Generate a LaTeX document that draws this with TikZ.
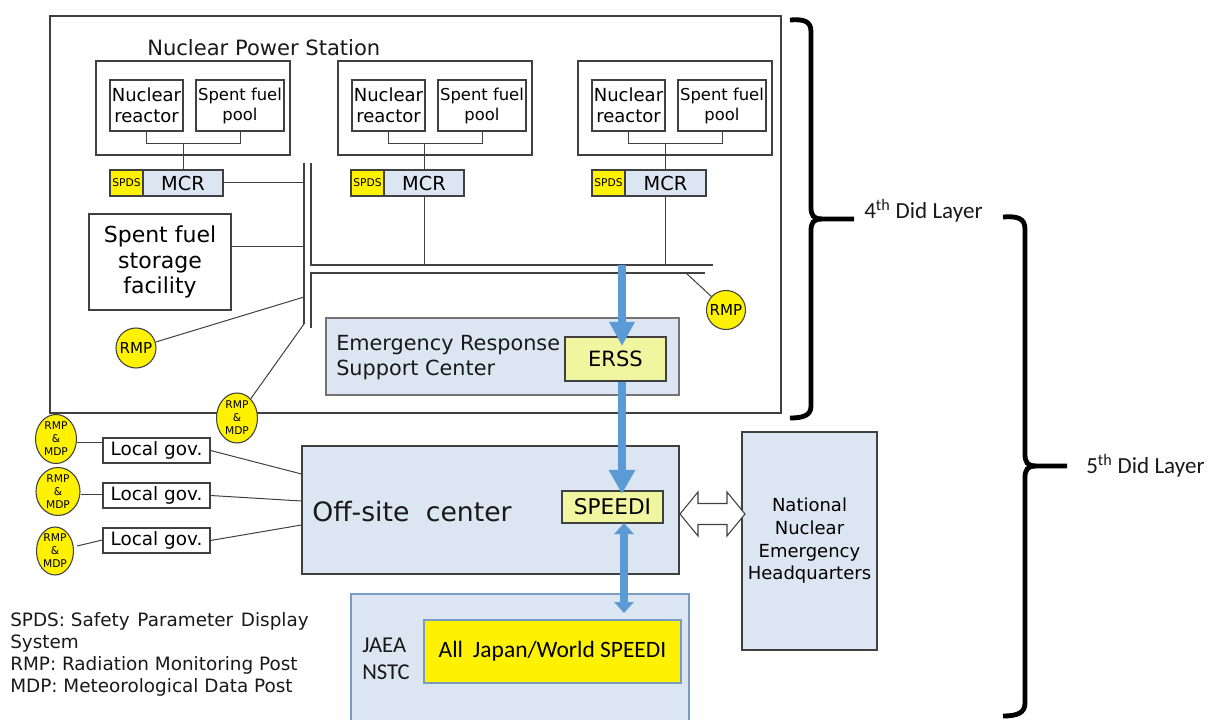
\documentclass[tikz,border=0pt]{standalone}
\usepackage{fontspec}
\setmainfont{DejaVu Sans}
\newfontfamily\carl{Carlito}
\usetikzlibrary{arrows.meta,calc,shapes.geometric}
\definecolor{lblue}{HTML}{DCE6F2}
\definecolor{lyel}{HTML}{F0F5A0}
\definecolor{ablue}{HTML}{5B9BD5}
\definecolor{bgrey}{HTML}{404040}
\definecolor{sblue}{HTML}{7A9CC0}
\newcommand\fs[2]{\fontsize{#1}{#2}\selectfont}
\tikzset{
  sz/.style 2 args={minimum width=#1*0.75pt, minimum height=#2*0.75pt},
  blk/.style={draw=bgrey, line width=0.8pt, inner sep=0pt, fill=white},
  bluebox/.style={draw=bgrey, line width=0.8pt, inner sep=0pt, fill=lblue},
  yelbox/.style={draw=bgrey, line width=0.8pt, inner sep=0pt, fill=lyel},
  spdsbox/.style={draw=bgrey, line width=0.8pt, inner sep=0pt, fill=yellow, font=\fs{8}{9}},
  mcrbox/.style={draw=bgrey, line width=0.8pt, inner sep=0pt, fill=lblue, font=\fs{14.5}{16}},
  rmpc/.style={draw=bgrey, line width=0.8pt, shape=circle, inner sep=0pt, fill=yellow},
  rmd/.style={draw=bgrey, line width=0.8pt, shape=ellipse, inner sep=0pt, fill=yellow, font=\fs{8}{9.8}, align=center},
  lgbox/.style={draw=bgrey, line width=0.8pt, inner sep=0pt, fill=white, font=\fs{13.8}{16}, minimum width=107*0.75pt, minimum height=25*0.75pt},
  wire/.style={draw=bgrey, line width=0.75pt},
  bus/.style={draw=bgrey, line width=1.3pt},
  brace/.style={draw=black, line width=3.6pt, line cap=butt},
  txt/.style={inner sep=0pt, text=black!90},
}
\begin{document}
\begin{tikzpicture}[x=0.75pt, y=-0.75pt]
\useasboundingbox (0,0) rectangle (1208,720);

% Nuclear power station
\node[blk, sz={731}{397}] (nps) at (415.5,214.5) {};
\node[txt, anchor=west, font=\fs{15.8}{18}] (npst) at (147,48) {Nuclear Power Station};

% units
\foreach \i/\x in {1/96, 2/338, 3/578}{
  \node[blk, sz={194}{94}] (u\i) at (\x+97,108) {};
  \node[blk, sz={73}{51}, font=\fs{13.5}{15.75}, align=center] (r\i) at (\x+50.5,105.5) {Nuclear\\reactor};
  \node[blk, sz={88}{51}, font=\fs{12.3}{15}, align=center] (p\i) at (\x+144,105.5) {Spent fuel\\pool};
}
\node[mcrbox, sz={80}{26}] (mcr1) at (183,183) {MCR};
\node[spdsbox, sz={33}{26}] (spds1) at (126.5,183) {SPDS};
\node[mcrbox, sz={80}{26}] (mcr2) at (424,183) {MCR};
\node[spdsbox, sz={33}{26}] (spds2) at (367.5,183) {SPDS};
\node[mcrbox, sz={81}{26}] (mcr3) at (665.5,183) {MCR};
\node[spdsbox, sz={33}{26}] (spds3) at (608.5,183) {SPDS};

\foreach \i in {1,2,3}{
  \coordinate (j\i) at ($(mcr\i.north)+(0,-26)$);
  \draw[wire] (r\i.south) |- (j\i) -| (p\i.south);
  \draw[wire] (j\i) -- (mcr\i.north);
}

% bus lines
\coordinate (bLt) at (304,163);
\coordinate (bLb) at (304,324);
\coordinate (bRt) at (311,163);
\coordinate (bRc) at (311,265);
\coordinate (bRe) at (713,265);
\coordinate (bSe) at (705,273);
\coordinate (bSc) at (311,273);
\coordinate (bSb) at (311,328);
\draw[bus] (bLt) -- (bLb);
\draw[bus] (bRt) -- (bRc) -- (bRe);
\draw[bus] (bSe) -- (bSc) -- (bSb);

\draw[wire] (mcr1.east) -- (mcr1.east -| bLt);
\draw[wire] (mcr2.south) -- (mcr2.south |- bRc);
\draw[wire] (mcr3.south) -- (mcr3.south |- bRc);

% spent fuel storage
\node[blk, sz={142}{96}, font=\fs{16.5}{19.2}, align=center] (sf) at (160,262) {Spent fuel\\storage\\facility};
\draw[wire] (sf.east |- 0,247) -- (bLt |- 0,247);

% RMPs inside
\node[rmpc, minimum size=40*0.75pt, font=\fs{11.3}{12}] (rmp1) at (136,348) {RMP};
\coordinate (b1) at (304,297);
\draw[wire] (rmp1) -- (b1);
\node[rmpc, minimum size=39*0.75pt, font=\fs{11.3}{12}] (rmp2) at (726,310) {RMP};
\coordinate (b2) at (686,273);
\draw[wire] (b2) -- (rmp2);
\node[rmd, minimum width=41*0.75pt, minimum height=50*0.75pt] (rmd0) at (237,418) {RMP\\\&\\MDP};
\draw[wire] (rmd0) -- (bLb);

% Emergency Response Support Center
\node[bluebox, draw=black!55, sz={353}{77}] (ersc) at (502.5,356.5) {};
\node[txt, anchor=west, align=left, font=\fs{15.6}{18.75}] (erst) at (336,357.5) {Emergency Response\\Support Center};
\node[yelbox, sz={101}{44}, font=\fs{15.8}{18}] (erss) at (615.5,359) {ERSS};

% Off-site center
\node[bluebox, sz={377}{128}] (off) at (490.5,510) {};
\node[txt, anchor=west, font=\fs{20}{24}] (offt) at (312,512) {Off-site\hspace{0.3em} center};
\node[yelbox, sz={101}{32}, font=\fs{16.2}{18}] (speedi) at (612.5,507) {SPEEDI};

% National Nuclear Emergency Headquarters
\node[bluebox, sz={135}{218}, font=\fs{13.5}{17}, align=center] (nneh) at (809.5,541) {National\\Nuclear\\Emergency\\Headquarters};

% JAEA
\node[bluebox, draw=sblue, sz={338}{132}] (jaea) at (520,660) {};
\node[txt, anchor=west, align=left, font=\carl\fs{17}{20.5}] (jaeat) at (362,658.5) {JAEA\\NSTC};
\node[draw=sblue, line width=0.8pt, fill=yellow, inner sep=0pt, sz={257}{63}, font=\carl\fs{17.6}{20}] (allj) at (552.5,651.5) {All\hspace{0.2em} Japan/World SPEEDI};

% blue arrows
\coordinate (a1s) at (622,265);
\coordinate (a1e) at (622,346);
\draw[draw=ablue, line width=6pt, -{Triangle[width=24*0.75pt,length=24*0.75pt]}] (a1s) -- (a1e);
\coordinate (a2s) at (622,382);
\coordinate (a2e) at (622,494);
\draw[draw=ablue, line width=6pt, -{Triangle[width=25*0.75pt,length=24*0.75pt]}] (a2s) -- (a2e);
\coordinate (a3s) at (624,523);
\coordinate (a3e) at (624,613);
\draw[draw=ablue, line width=6.5pt, {Triangle[width=19*0.75pt,length=11*0.75pt]}-{Triangle[width=19*0.75pt,length=11*0.75pt]}] (a3s) -- (a3e);

% hollow double arrow
\coordinate (dam) at (712.5,514);
\draw[draw=bgrey, line width=0.8pt, fill=white, shift={(dam)}]
  (-32.5,0) -- (-14.5,-22) -- (-14.5,-10.5) -- (14.5,-10.5) -- (14.5,-22) -- (32.5,0)
  -- (14.5,22) -- (14.5,10.5) -- (-14.5,10.5) -- (-14.5,22) -- cycle;

% local governments
\node[lgbox] (lg1) at (156.5,450.5) {Local gov.};
\node[lgbox] (lg2) at (156.5,495.5) {Local gov.};
\node[lgbox] (lg3) at (156.5,540.5) {Local gov.};
\draw[wire] (lg1.east) -- (off.west |- 0,474);
\draw[wire] (lg2.east) -- (off.west |- 0,501);
\draw[wire] (lg3.east) -- (off.west |- 0,525);

\node[rmd, minimum width=41*0.75pt, minimum height=49*0.75pt] (m1) at (56,439) {RMP\\\&\\MDP};
\node[rmd, minimum width=44*0.75pt, minimum height=45*0.75pt] (m2) at (58,491.5) {RMP\\\&\\MDP};
\node[rmd, minimum width=37*0.75pt, minimum height=48*0.75pt] (m3) at (55,551) {RMP\\\&\\MDP};
\draw[wire] (m1.east |- 0,443) -- (lg1.west |- 0,443);
\draw[wire] (m2.east |- 0,495) -- (lg2.west |- 0,495);
\draw[wire] ($(m3.east)+(3,-5)$) -- (lg3.west |- 0,540);

% legend
\node[txt, anchor=north west, align=left, font=\fs{13.8}{16.5}] (legend) at (10,612) {SPDS: Safety\hspace{0.1em} Parameter\hspace{0.1em} Display\\System\\RMP: Radiation Monitoring Post\\MDP: Meteorological Data Post};

% braces
\draw[brace] (790,20) .. controls (804,19) and (811,21) .. (811,32) -- (811,207)
  .. controls (811,215) and (813,219) .. (822,219) -- (854,219);
\draw[brace] (822,219) .. controls (813,219) and (811,223) .. (811,231) -- (811,406)
  .. controls (811,415) and (804,418) .. (790,418);
\node[txt, anchor=west, font=\carl\fs{17.3}{20}] (l4) at (864,211) {4\textsuperscript{th} Did Layer};

\draw[brace] (1003,217) .. controls (1017,216) and (1025,218) .. (1025,229) -- (1025,454)
  .. controls (1025,462) and (1027,466) .. (1036,466) -- (1067,466);
\draw[brace] (1036,466) .. controls (1027,466) and (1025,470) .. (1025,478) -- (1025,703)
  .. controls (1025,713) and (1017,716) .. (1003,716);
\node[txt, anchor=west, font=\carl\fs{17.3}{20}] (l5) at (1086,466) {5\textsuperscript{th} Did Layer};
\end{tikzpicture}
\end{document}
